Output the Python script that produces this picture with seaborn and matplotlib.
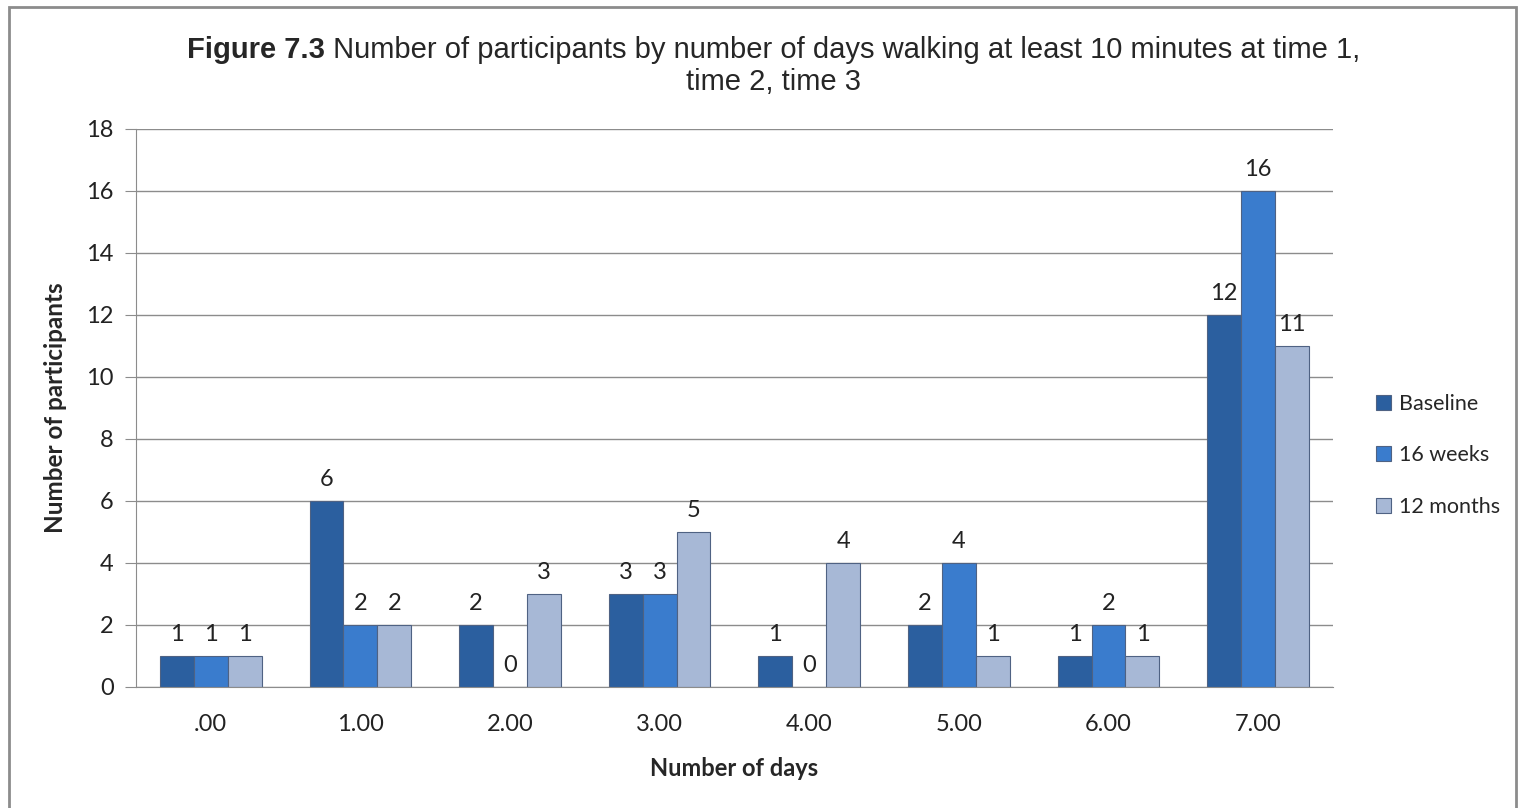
import numpy as np
import pandas as pd
import seaborn as sns
import matplotlib.pyplot as plt
from matplotlib.patches import Rectangle

days = ['.00', '1.00', '2.00', '3.00', '4.00', '5.00', '6.00', '7.00']
baseline = [1, 6, 2, 3, 1, 2, 1, 12]
weeks16 = [1, 2, 0, 3, 0, 4, 2, 16]
months12 = [1, 2, 3, 5, 4, 1, 1, 11]
series = ['Baseline', '16 weeks', '12 months']
colors = ['#2b5f9f', '#3a7ccd', '#a7b8d6']

df = pd.DataFrame({'days': days * 3,
                   'count': baseline + weeks16 + months12,
                   'time': np.repeat(series, len(days))})

sns.set_style('white')
plt.rcParams['font.family'] = ['Lato', 'DejaVu Sans']

fig = plt.figure(figsize=(15.19, 8.08), dpi=100)
ax = fig.add_axes([0.0895, 0.1498, 0.788, 0.6906])

sns.barplot(data=df, x='days', y='count', hue='time', order=days,
            hue_order=series, palette=colors, width=0.68, ax=ax,
            edgecolor='#4f6283', linewidth=0.8, saturation=1)

for cont in ax.containers:
    ax.bar_label(cont, fmt='%d', padding=8, fontsize=17, color='#222222')

ax.set_ylim(0, 18)
ax.set_yticks(range(0, 19, 2))
ax.yaxis.grid(True, color='#8c8c8c', linewidth=1)
ax.set_axisbelow(True)
for s in ['top', 'right']:
    ax.spines[s].set_visible(False)
for s in ['left', 'bottom']:
    ax.spines[s].set_color('#8c8c8c')
ax.tick_params(axis='y', which='both', left=True, length=8, color='#8c8c8c',
               labelsize=17, pad=8, labelcolor='#222222')
ax.tick_params(axis='x', bottom=False, labelsize=17, pad=16, labelcolor='#222222')
ax.set_xlabel('Number of days', fontsize=17, fontweight='bold', labelpad=16)
ax.set_ylabel('Number of participants', fontsize=17.5, fontweight='bold', labelpad=14)

ax.legend(loc='center left', bbox_to_anchor=(1.02, 0.415), frameon=False,
          fontsize=15.5, labelspacing=1.45, handlelength=0.7, handleheight=0.7,
          handletextpad=0.35)

# title: bold part plus normal part
fig.canvas.draw()
r = fig.canvas.get_renderer()
t1 = fig.text(0.5, 0.938, 'Figure 7.3', fontsize=21, fontweight='bold',
              family='Liberation Sans', ha='left', va='center')
t2 = fig.text(0.5, 0.938, ' Number of participants by number of days walking at least 10 minutes at time 1,',
              fontsize=21, family='Liberation Sans', ha='left', va='center')
w1 = t1.get_window_extent(r).width
w2 = t2.get_window_extent(r).width
x0 = (774 - (w1 + w2) / 2) / 1519
t1.set_x(x0)
t2.set_x(x0 + w1 / 1519)
fig.text(774 / 1519, 0.899, 'time 2, time 3', fontsize=21,
         family='Liberation Sans', ha='center', va='center')

fig.patches.append(Rectangle((9 / 1519, -0.01), 1507 / 1519, 1 - 7 / 808 + 0.01,
                             transform=fig.transFigure, fill=False,
                             edgecolor='#8c8c8c', linewidth=2))

fig.savefig('out.png', dpi=100)
